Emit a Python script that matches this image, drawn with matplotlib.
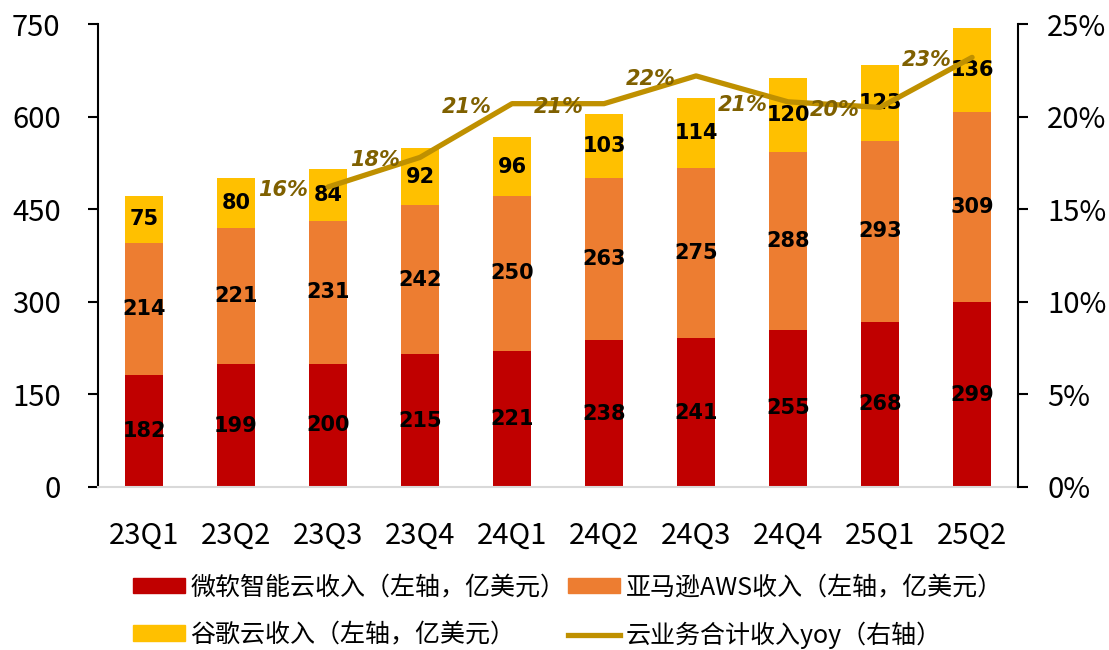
import numpy as np
import matplotlib
matplotlib.use("Agg")
import matplotlib.pyplot as plt
from matplotlib.patches import Patch
from matplotlib.lines import Line2D
from matplotlib.ticker import FuncFormatter

plt.rcParams['font.family'] = ['Noto Sans CJK SC', 'DejaVu Sans']

quarters = ['23Q1', '23Q2', '23Q3', '23Q4', '24Q1', '24Q2', '24Q3', '24Q4', '25Q1', '25Q2']
msft = [182, 199, 200, 215, 221, 238, 241, 255, 268, 299]
aws = [214, 221, 231, 242, 250, 263, 275, 288, 293, 309]
google = [75, 80, 84, 92, 96, 103, 114, 120, 123, 136]
# yoy of the combined cloud revenue, starts at 23Q3
yoy = [np.nan, np.nan, 0.162, 0.178, 0.207, 0.207, 0.222, 0.208, 0.205, 0.232]
yoy_labels = ['', '', '16%', '18%', '21%', '21%', '22%', '21%', '20%', '23%']

name_ms = '微软智能云收入（左轴，亿美元）'
name_aws = '亚马逊AWS收入（左轴，亿美元）'
name_goog = '谷歌云收入（左轴，亿美元）'
name_yoy = '云业务合计收入yoy（右轴）'

c_ms = '#C00000'
c_aws = '#ED7D31'
c_goog = '#FFC000'
c_line = '#BF9000'
c_pct = '#7F6000'

fig = plt.figure(figsize=(11.09, 6.5), dpi=100)
ax = fig.add_axes([0.0884, 0.2508, 0.8296, 0.7122])

x = np.arange(len(quarters))
w = 0.41
b1 = ax.bar(x, msft, w, color=c_ms)
b2 = ax.bar(x, aws, w, bottom=msft, color=c_aws)
b3 = ax.bar(x, google, w, bottom=np.array(msft) + np.array(aws), color=c_goog)
for bars in (b1, b2, b3):
    ax.bar_label(bars, label_type='center', fontsize=15, fontweight='bold',
                 family='DejaVu Sans', color='black')

ax.set_xlim(-0.5, len(quarters) - 0.5)
ax.set_ylim(0, 750)
ax.set_yticks([0, 150, 300, 450, 600, 750])
ax.set_xticks(x)
ax.set_xticklabels(quarters)
ax.tick_params(axis='y', direction='out', length=7, width=1.5, labelsize=21, pad=20)
ax.tick_params(axis='x', length=0, labelsize=21, pad=24)
ax.spines['top'].set_visible(False)
ax.spines['right'].set_visible(False)
ax.spines['left'].set_linewidth(1.5)
ax.spines['bottom'].set_color('#D9D9D9')
ax.spines['bottom'].set_linewidth(1.5)

ax2 = ax.twinx()
ax2.plot(x, yoy, color=c_line, linewidth=3.8, solid_capstyle='round')
for xi, v, lab in zip(x, yoy, yoy_labels):
    if lab:
        ax2.annotate(lab, (xi, v), xytext=(-45, -3), textcoords='offset pixels',
                     ha='center', va='center', fontsize=15, style='italic',
                     fontweight='bold', family='DejaVu Sans', color=c_pct)
ax2.set_ylim(0, 0.25)
ax2.set_yticks([0, 0.05, 0.10, 0.15, 0.20, 0.25])
ax2.yaxis.set_major_formatter(FuncFormatter(lambda v, p: '{:.0f}%'.format(v * 100)))
ax2.tick_params(axis='y', direction='out', length=7, width=1.5, labelsize=21, pad=14)
for s in ('top', 'left', 'bottom'):
    ax2.spines[s].set_visible(False)
ax2.spines['right'].set_linewidth(1.5)

# legend fills column by column, so order gives rows: ms/aws, google/yoy
handles = [Patch(color=c_ms), Patch(color=c_goog), Patch(color=c_aws),
           Line2D([], [], color=c_line, linewidth=3.8)]
names = [name_ms, name_goog, name_aws, name_yoy]
fig.legend(handles, names, loc='center', bbox_to_anchor=(0.512, 0.059), ncol=2,
           frameon=False, fontsize=18, handlelength=2.1, handleheight=0.6,
           handletextpad=0.2, columnspacing=0.1, labelspacing=0.85)

fig.savefig('out.png', dpi=100)
